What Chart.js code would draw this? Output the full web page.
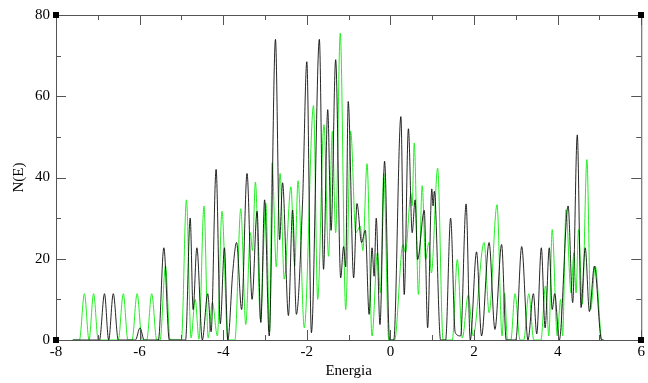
<!DOCTYPE html>
<html lang="pt">
<head>
    <meta charset="UTF-8">
    <title>N(E)</title>
    <style>
        html, body { margin: 0; padding: 0; background: #fff; }
        #wrap { width: 648px; height: 383px; }
    </style>
</head>
<body>
    <div id="wrap"><canvas id="dos" width="648" height="383"></canvas></div>
    <script src="https://cdn.jsdelivr.net/npm/chart.js@4.4.1/dist/chart.umd.min.js"></script>
    <script>
        // energies / densities (peaks and valleys)
        const blackE = [-7.60, -6.96, -6.84, -6.74, -6.63, -6.51, -6.10, -5.99, -5.89, -5.55, -5.42, -5.29,
            -4.90, -4.79, -4.72, -4.63, -4.50, -4.37, -4.29, -4.17, -4.07, -3.97, -3.89, -3.77, -3.68, -3.56,
            -3.43, -3.31, -3.19, -3.10, -3.01, -2.90, -2.75, -2.65, -2.58, -2.44, -2.34, -2.25, -2.10, -2.00,
            -1.89, -1.70, -1.60, -1.50, -1.42, -1.31, -1.19, -1.12, -1.07, -1.01, -0.88, -0.80, -0.69, -0.60,
            -0.51, -0.44, -0.39, -0.34, -0.25, -0.14, -0.02, 0.08, 0.25, 0.33, 0.43, 0.52, 0.59, 0.65, 0.81,
            0.89, 0.99, 1.02, 1.05, 1.20, 1.32, 1.44, 1.55, 1.68, 1.81, 1.91, 2.06, 2.18, 2.36, 2.50, 2.66,
            2.77, 3.00, 3.14, 3.29, 3.42, 3.50, 3.61, 3.70, 3.80, 3.87, 3.93, 4.04, 4.25, 4.36, 4.47, 4.56,
            4.66, 4.76, 4.88, 5.05, 5.10];
        const blackN = [0, 0, 11.4, 0, 11.4, 0, 0, 3, 0, 0, 22.7, 0,
            0, 30, 7.5, 22.7, 0, 11.4, 2, 42, 4, 22.7, 0, 17, 24, 7.5,
            41, 10, 31.7, 4.3, 34.5, 1, 74, 24.7, 38.7, 6, 32, 6.3, 34.5, 68.5,
            1.8, 74, 17.4, 56.7, 27, 69, 15.3, 23, 18, 58.7, 15.3, 33.6, 24, 27,
            6.3, 22.7, 15.7, 30, 3.8, 44, 0, 0, 55, 11.2, 52, 26.4, 34.5, 19.8, 31.9,
            3, 37.2, 33, 36.6, 0, 0, 30, 1.8, 1, 33.5, 0, 21.7, 1, 24, 2.6, 23.5,
            0, 0, 23, 0, 11.4, 1.5, 22.7, 3, 22.7, 7.5, 11.4, 0, 33, 9.2, 50.5, 8,
            22.7, 7, 18.2, 0, 0];

        const greenE = [-7.60, -7.44, -7.32, -7.21, -7.10, -6.99, -6.51, -6.39, -6.28, -6.18, -6.06, -5.94,
            -5.83, -5.71, -5.59, -5.51, -5.38, -5.27, -5.00, -4.88, -4.77, -4.67, -4.58, -4.46, -4.36, -4.26,
            -4.14, -4.03, -3.89, -3.72, -3.58, -3.46, -3.35, -3.30, -3.23, -3.11, -2.98, -2.89, -2.83, -2.73,
            -2.64, -2.54, -2.38, -2.29, -2.21, -2.06, -1.84, -1.74, -1.59, -1.48, -1.39, -1.31, -1.20, -1.07,
            -0.95, -0.83, -0.72, -0.66, -0.56, -0.44, -0.31, -0.24, -0.16, -0.04, 0.10, 0.30, 0.36, 0.49,
            0.52, 0.57, 0.67, 0.76, 0.84, 0.92, 0.98, 1.13, 1.26, 1.48, 1.60, 1.72, 1.86, 1.98, 2.24, 2.36,
            2.55, 2.67, 2.73, 2.80, 2.88, 2.98, 3.10, 3.19, 3.31, 3.43, 3.60, 3.71, 3.79, 3.87, 3.99, 4.07,
            4.12, 4.20, 4.32, 4.39, 4.44, 4.50, 4.59, 4.70, 4.79, 4.90, 5.06, 5.10];
        const greenN = [0, 0, 11.4, 0, 11.4, 0, 0, 11.4, 0, 0, 11.4, 0,
            0, 11.4, 0, 0, 18.2, 0, 0, 34.5, 0.5, 10, 0.2, 33, 0.5, 9.2,
            1, 31.7, 0, 0, 32.3, 3.8, 26.4, 22, 38.9, 5, 33.7, 2, 43.6, 18,
            41, 15, 37.7, 18.2, 39.2, 3, 57.7, 10, 53, 20.6, 51.4, 26.4, 75.5, 7.5,
            51.4, 26.4, 28, 22, 43.4, 1, 21.5, 11.6, 41, 0, 0, 23.5, 21.5, 36,
            33, 48.5, 11.2, 38, 19.8, 24, 16.5, 42.3, 0, 0, 19.8, 0.5, 11, 1, 24, 6.7,
            33.3, 1, 11.6, 0, 0, 11.4, 0, 0, 11.4, 0, 0, 13.3, 1, 27.2, 1, 10,
            1, 32.1, 11.6, 21.5, 11.6, 27.2, 8.8, 44.4, 7.5, 18.2, 0, 0];

        const xTicks = [-8, -6, -4, -2, 0, 2, 4, 6];
        const xMinor = [-7, -5, -3, -1, 1, 3, 5];
        const yTicks = [0, 20, 40, 60, 80];
        const yMinor = [10, 30, 50, 70];

        const toPoints = (xs, ys) => xs.map((e, i) => ({x: e, y: ys[i]}));

        // frame with inward ticks on all four sides + corner squares
        const frameTicks = {
            id: 'frameTicks',
            afterDraw(chart){
                const {ctx, chartArea: a, scales: {x, y}} = chart;
                ctx.save();
                ctx.strokeStyle = '#555';
                ctx.lineWidth = 1;
                ctx.strokeRect(a.left + 0.5, a.top + 0.5, a.right - a.left, a.bottom - a.top);
                const tick = (x0, y0, x1, y1) => {
                    ctx.beginPath(); ctx.moveTo(x0, y0); ctx.lineTo(x1, y1); ctx.stroke();
                };
                xTicks.forEach(v => {
                    const p = Math.round(x.getPixelForValue(v)) + 0.5;
                    tick(p, a.bottom, p, a.bottom - 10);
                    tick(p, a.top, p, a.top + 10);
                });
                xMinor.forEach(v => {
                    const p = Math.round(x.getPixelForValue(v)) + 0.5;
                    tick(p, a.bottom, p, a.bottom - 5);
                    tick(p, a.top, p, a.top + 5);
                });
                yTicks.forEach(v => {
                    const p = Math.round(y.getPixelForValue(v)) + 0.5;
                    tick(a.left, p, a.left + 10, p);
                    tick(a.right, p, a.right - 10, p);
                });
                yMinor.forEach(v => {
                    const p = Math.round(y.getPixelForValue(v)) + 0.5;
                    tick(a.left, p, a.left + 5, p);
                    tick(a.right, p, a.right - 5, p);
                });
                ctx.fillStyle = '#000';
                [[a.left, a.top], [a.right, a.top], [a.left, a.bottom], [a.right, a.bottom]].forEach(c => {
                    ctx.fillRect(Math.round(c[0]) - 3, Math.round(c[1]) - 3, 6, 6);
                });
                ctx.restore();
            }
        };

        const serif = '"Liberation Serif", "DejaVu Serif", serif';

        new Chart(document.getElementById('dos'), {
            type: 'line',
            data: {
                datasets: [
                    {
                        label: 'preto',
                        data: toPoints(blackE, blackN),
                        borderColor: 'rgba(0,0,0,0.85)',
                        borderWidth: 1,
                        pointRadius: 0,
                        cubicInterpolationMode: 'monotone'
                    },
                    {
                        label: 'verde',
                        data: toPoints(greenE, greenN),
                        borderColor: '#22ee22',
                        borderWidth: 1,
                        pointRadius: 0,
                        cubicInterpolationMode: 'monotone'
                    }
                ]
            },
            options: {
                responsive: false,
                animation: false,
                layout: { padding: { top: 15, right: 5, left: 0, bottom: 0 } },
                plugins: { legend: { display: false }, tooltip: { enabled: false } },
                scales: {
                    x: {
                        type: 'linear',
                        min: -8, max: 6,
                        afterBuildTicks(scale){ scale.ticks = xTicks.map(v => ({value: v})) },
                        afterFit(scale){ scale.height = 43 },
                        grid: { display: false, drawTicks: false },
                        border: { display: false },
                        ticks: { color: '#000', font: { family: serif, size: 15 }, padding: 3, maxRotation: 0 },
                        title: { display: true, text: 'Energia', color: '#000', font: { family: serif, size: 15 }, padding: { top: 0, bottom: 3 } }
                    },
                    y: {
                        min: 0, max: 80,
                        afterBuildTicks(scale){ scale.ticks = yTicks.map(v => ({value: v})) },
                        afterFit(scale){ scale.width = 56 },
                        grid: { display: false, drawTicks: false },
                        border: { display: false },
                        ticks: { color: '#000', font: { family: serif, size: 15 }, padding: 6 },
                        title: { display: true, text: 'N(E)', color: '#000', font: { family: serif, size: 15 }, padding: { top: 10, bottom: 0 } }
                    }
                }
            },
            plugins: [frameTicks]
        });
    </script>
</body>
</html>
